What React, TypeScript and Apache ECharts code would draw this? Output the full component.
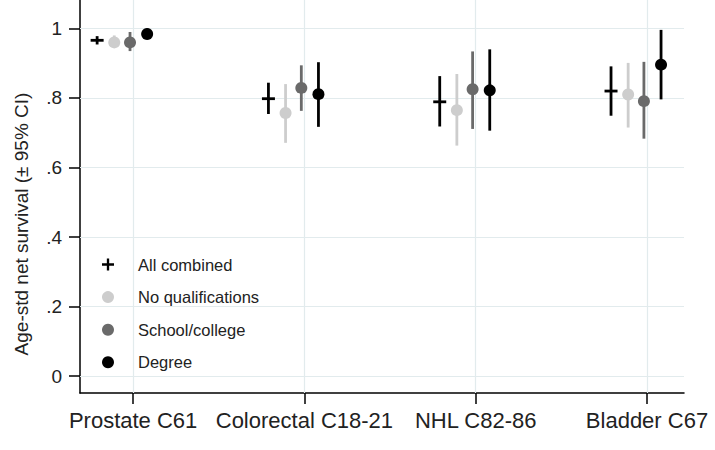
import React, { useEffect, useRef } from "react";
import * as echarts from "echarts";

const categories = ["Prostate C61", "Colorectal C18-21", "NHL C82-86", "Bladder C67"];
const seriesNames = ["All combined", "No qualifications", "School/college", "Degree"];

// point estimates
const allCombined = [0.966, 0.798, 0.789, 0.82];
const noQual = [0.96, 0.757, 0.765, 0.81];
const schoolCollege = [0.96, 0.829, 0.825, 0.791];
const degree = [0.984, 0.811, 0.822, 0.896];

// lower 95% CI
const allCombinedLo = [0.954, 0.754, 0.718, 0.749];
const noQualLo = [0.945, 0.671, 0.663, 0.715];
const schoolCollegeLo = [0.935, 0.763, 0.711, 0.683];
const degreeLo = [0.97, 0.717, 0.706, 0.796];

// upper 95% CI
const allCombinedHi = [0.978, 0.844, 0.863, 0.891];
const noQualHi = [0.98, 0.84, 0.869, 0.901];
const schoolCollegeHi = [0.99, 0.894, 0.934, 0.904];
const degreeHi = [1.0, 0.903, 0.94, 0.996];

const yTicks = [0, 0.2, 0.4, 0.6, 0.8, 1];
const xTicks = [1, 2, 3, 4];

const offsets = [-0.21, -0.11, -0.018, 0.082];
const colors = ["#000000", "#cdcdcd", "#6a6a6a", "#000000"];
const markers = ["plus", "circle", "circle", "circle"];

const est = [allCombined, noQual, schoolCollege, degree];
const los = [allCombinedLo, noQualLo, schoolCollegeLo, degreeLo];
const his = [allCombinedHi, noQualHi, schoolCollegeHi, degreeHi];

const FONT = "'Liberation Sans', Arial, Helvetica, sans-serif";
const GRID_COLOR = "#e2ebed";

export default function App() {
  const ref = useRef<HTMLDivElement>(null);

  useEffect(() => {
    if (!ref.current) return;
    const chart = echarts.init(ref.current, null, { renderer: "svg" });

    const series: any[] = seriesNames.map((name, si) => ({
      name,
      type: "custom",
      color: colors[si],
      itemStyle: { color: colors[si] },
      encode: { x: 0, y: [1, 2, 3] },
      data: categories.map((_, ci) => [ci + 1 + offsets[si], est[si][ci], los[si][ci], his[si][ci]]),
      z: 5 + si,
      renderItem: (params: any, api: any) => {
        const x = api.value(0);
        const p = api.coord([x, api.value(1)]);
        const lo = api.coord([x, api.value(2)]);
        const hi = api.coord([x, api.value(3)]);
        const col = colors[si];
        const children: any[] = [
          {
            type: "line",
            shape: { x1: lo[0], y1: lo[1], x2: hi[0], y2: hi[1] },
            style: { stroke: col, lineWidth: 2.8 },
          },
        ];
        if (markers[si] === "plus") {
          children.push({
            type: "line",
            shape: { x1: p[0] - 6.5, y1: p[1], x2: p[0] + 6.5, y2: p[1] },
            style: { stroke: col, lineWidth: 2.8 },
          });
        } else {
          children.push({
            type: "circle",
            shape: { cx: p[0], cy: p[1], r: 6 },
            style: { fill: col, stroke: null },
          });
        }
        return { type: "group", children };
      },
    }));

    // grid lines
    series.push({
      name: "grid",
      type: "line",
      data: [],
      silent: true,
      z: 1,
      markLine: {
        silent: true,
        symbol: "none",
        label: { show: false },
        lineStyle: { color: GRID_COLOR, width: 1.2, type: "solid" },
        animation: false,
        data: [
          ...xTicks.map((v) => ({ xAxis: v })),
          ...yTicks.map((v) => ({ yAxis: v })),
        ],
      },
    });

    const plusIcon = "path://M5,0h2.4v12.4h-2.4zM0,5h12.4v2.4h-12.4z";

    chart.setOption({
      animation: false,
      backgroundColor: "#ffffff",
      grid: { left: 80, right: 31, top: 0, bottom: 57 },
      legend: {
        orient: "vertical",
        left: 97,
        top: 251,
        itemWidth: 12,
        itemHeight: 12,
        itemGap: 15.6,
        selectedMode: false,
        textStyle: { fontFamily: FONT, fontSize: 16.5, color: "#222", padding: [0, 0, 0, 19] },
        data: seriesNames.map((n, i) => ({
          name: n,
          icon: i === 0 ? plusIcon : "circle",
          itemStyle: { color: colors[i] },
        })),
      },
      xAxis: {
        type: "value",
        min: 0.69,
        max: 4.216,
        axisLine: { show: true, onZero: false, lineStyle: { color: "#000", width: 1.5 } },
        axisTick: { show: true, customValues: xTicks, length: 11, lineStyle: { color: "#000", width: 1.5 } },
        axisLabel: {
          customValues: xTicks,
          formatter: (v: number) => categories[Math.round(v) - 1] ?? "",
          fontFamily: FONT,
          fontSize: 22,
          color: "#222",
          margin: 16,
        },
        splitLine: { show: false },
      },
      yAxis: {
        type: "value",
        min: -0.0489,
        max: 1.082,
        axisLine: { show: true, onZero: false, lineStyle: { color: "#000", width: 1.5 } },
        axisTick: { show: true, customValues: yTicks, length: 11, lineStyle: { color: "#000", width: 1.5 } },
        axisLabel: {
          customValues: yTicks,
          formatter: (v: number) => {
            if (Math.abs(v) < 1e-9) return "0";
            if (Math.abs(v - 1) < 1e-9) return "1";
            return v.toFixed(1).replace(/^0/, "");
          },
          fontFamily: FONT,
          fontSize: 19,
          color: "#222",
          margin: 18,
        },
        splitLine: { show: false },
      },
      graphic: [
        {
          type: "text",
          x: 21,
          y: 224,
          rotation: Math.PI / 2,
          style: {
            text: "Age-std net survival (± 95% CI)",
            fontFamily: FONT,
            fontSize: 19,
            fill: "#222",
            align: "center",
            verticalAlign: "middle",
          },
        },
      ],
      series,
    });

    return () => chart.dispose();
  }, []);

  return <div ref={ref} style={{ width: 715, height: 450, position: "absolute", left: 0, top: 0 }} />;
}
